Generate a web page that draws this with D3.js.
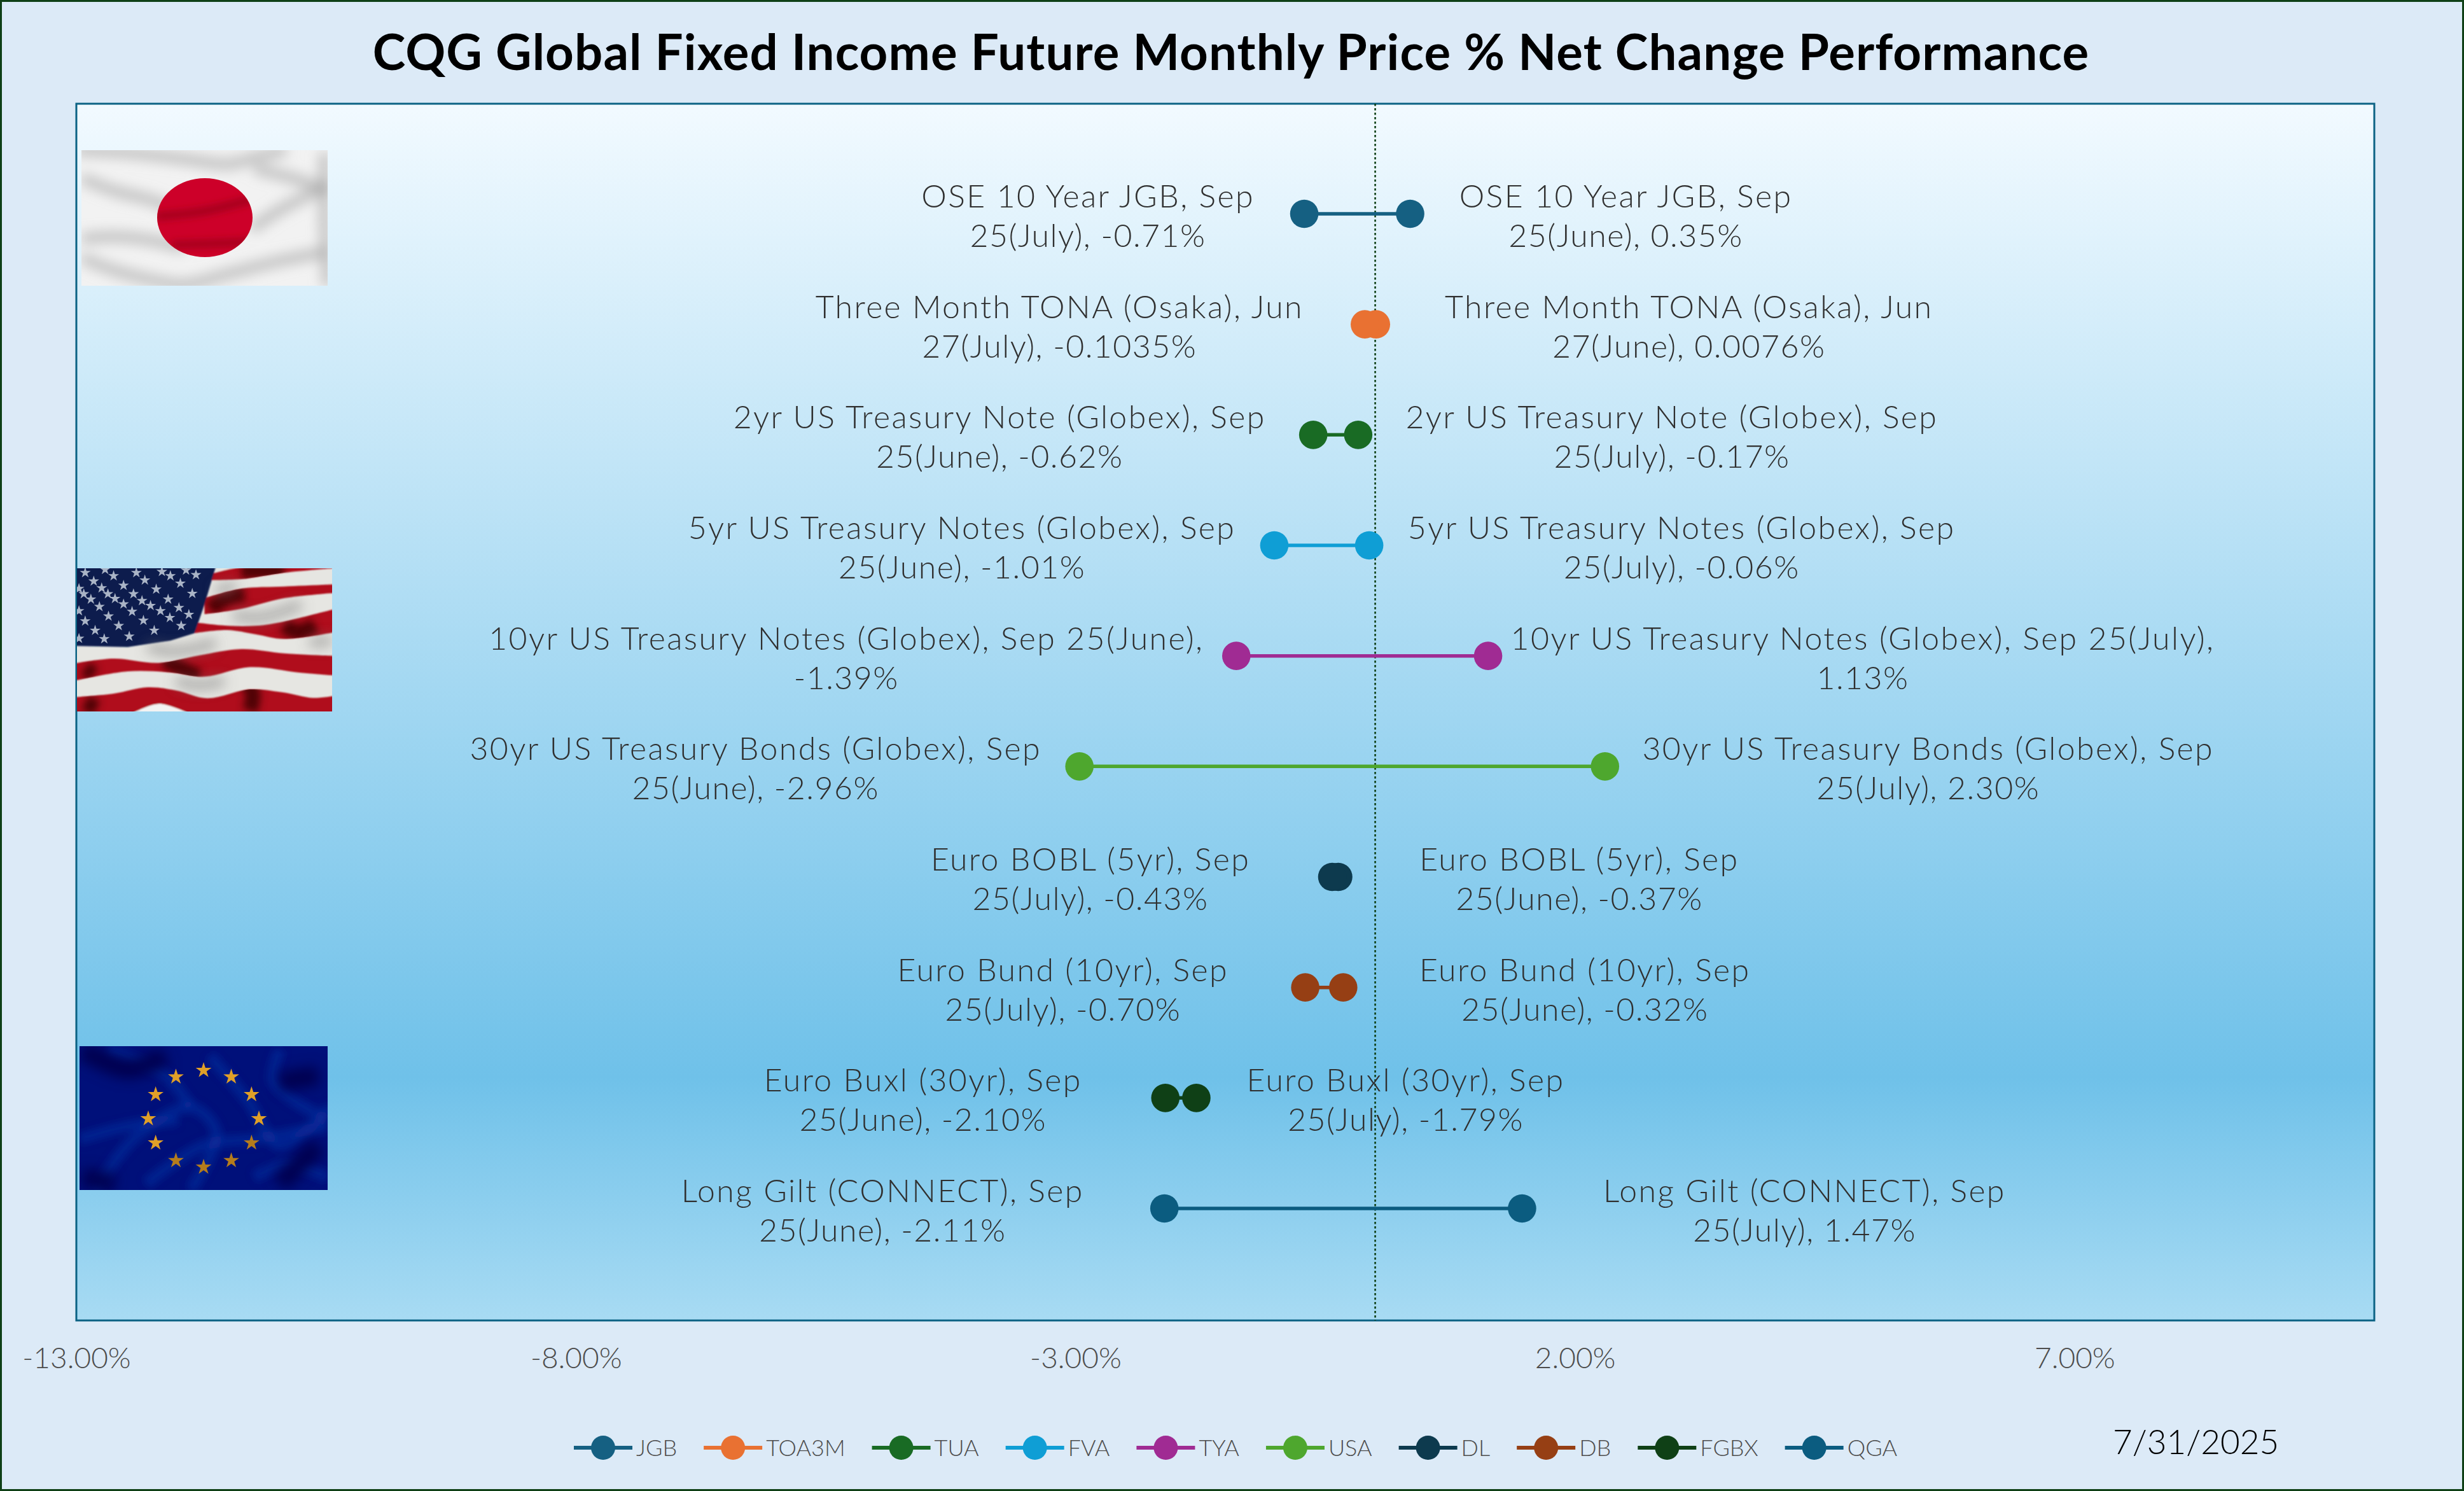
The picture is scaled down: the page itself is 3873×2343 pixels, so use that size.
<!DOCTYPE html>
<html>
<head>
<meta charset="UTF-8">
<title>CQG Global Fixed Income</title>
<script src="https://cdnjs.cloudflare.com/ajax/libs/d3/7.9.0/d3.min.js"></script>
<style>
body { margin: 0; background: #dceaf7; }
text { font-family: Lato, "Open Sans", sans-serif; }
.lbl { font-size: 50px; font-weight: 300; fill: #303030; letter-spacing: 2.4px; }
.lbl.second { letter-spacing: 1.5px; }
.tick text { font-size: 46px; font-weight: 300; fill: #4d4d4d; font-family: Lato, sans-serif; }
.leg { font-size: 36px; fill: #4d4d4d; font-weight: 300; }
</style>
</head>
<body>
<svg id="chart" width="3873" height="2343"></svg>
<script>
var tickers = ["JGB","TOA3M","TUA","FVA","TYA","USA","DL","DB","FGBX","QGA"];
var colors = ["#156082","#e97132","#196b24","#0f9ed5","#a02b93","#4ea72e","#0d3a4e","#963f14","#0f4016","#0b5c80"];
var juneValues = [0.35,0.0076,-0.62,-1.01,-1.39,-2.96,-0.37,-0.32,-2.10,-2.11];
var julyValues = [-0.71,-0.1035,-0.17,-0.06,1.13,2.30,-0.43,-0.70,-1.79,1.47];
var juneLabels = [
  ["OSE 10 Year JGB, Sep","25(June), 0.35%"],
  ["Three Month TONA (Osaka), Jun","27(June), 0.0076%"],
  ["2yr US Treasury Note (Globex), Sep","25(June), -0.62%"],
  ["5yr US Treasury Notes (Globex), Sep","25(June), -1.01%"],
  ["10yr US Treasury Notes (Globex), Sep 25(June),","-1.39%"],
  ["30yr US Treasury Bonds (Globex), Sep","25(June), -2.96%"],
  ["Euro BOBL (5yr), Sep","25(June), -0.37%"],
  ["Euro Bund (10yr), Sep","25(June), -0.32%"],
  ["Euro Buxl (30yr), Sep","25(June), -2.10%"],
  ["Long Gilt (CONNECT), Sep","25(June), -2.11%"]
];
var julyLabels = [
  ["OSE 10 Year JGB, Sep","25(July), -0.71%"],
  ["Three Month TONA (Osaka), Jun","27(July), -0.1035%"],
  ["2yr US Treasury Note (Globex), Sep","25(July), -0.17%"],
  ["5yr US Treasury Notes (Globex), Sep","25(July), -0.06%"],
  ["10yr US Treasury Notes (Globex), Sep 25(July),","1.13%"],
  ["30yr US Treasury Bonds (Globex), Sep","25(July), 2.30%"],
  ["Euro BOBL (5yr), Sep","25(July), -0.43%"],
  ["Euro Bund (10yr), Sep","25(July), -0.70%"],
  ["Euro Buxl (30yr), Sep","25(July), -1.79%"],
  ["Long Gilt (CONNECT), Sep","25(July), 1.47%"]
];
var xDomain = [-13,10];
var xTicks = [-13,-8,-3,2,7];
var titleText = "CQG Global Fixed Income Future Monthly Price % Net Change Performance";
var dateText = "7/31/2025";

// distance from a point to the centre of its label box, per row
var leftBoxOffset = [340,480,493,491,613,509,380,381,381,443];
var rightBoxOffset = [339,492,493,491,589,508,379,380,329,444];

var svg = d3.select("#chart");
var plot = {left:120, right:3732, top:163, bottom:2075};
var x = d3.scaleLinear().domain(xDomain).range([plot.left, plot.right]);
var y = d3.scalePoint().domain(tickers).range([336,1899]);

var defs = svg.append("defs");
var grad = defs.append("linearGradient").attr("id","plotbg").attr("x1",0).attr("y1",0).attr("x2",0).attr("y2",1);
[[0,"#f2faff"],[0.8,"#6fc1e9"],[1,"#a8dbf3"]].forEach(function(s){
  grad.append("stop").attr("offset",s[0]).attr("stop-color",s[1]);
});
[["b1",1.2],["b6",6],["b10",10]].forEach(function(f){
  defs.append("filter").attr("id",f[0]).attr("x","-20%").attr("y","-20%").attr("width","140%").attr("height","140%")
      .append("feGaussianBlur").attr("stdDeviation",f[1]);
});

// page + plot frame
svg.append("rect").attr("x",1.5).attr("y",1.5).attr("width",3870).attr("height",2340)
   .attr("fill","#dceaf7").attr("stroke","#0f4016").attr("stroke-width",3);
svg.append("rect").attr("x",plot.left).attr("y",plot.top)
   .attr("width",plot.right-plot.left).attr("height",plot.bottom-plot.top)
   .attr("fill","url(#plotbg)").attr("stroke","#0b6284").attr("stroke-width",3);

svg.append("text").attr("x",1935).attr("y",110).attr("text-anchor","middle")
   .style("font-size","78px").style("font-weight",700).style("letter-spacing","1.1px").style("fill","#000").text(titleText);

// flags (decoration, drawn by hand)
var curve = d3.line().curve(d3.curveCatmullRom);
function flagGroup(id,bx,by,bw,bh) {
  defs.append("clipPath").attr("id",id).append("rect").attr("x",bx).attr("y",by).attr("width",bw).attr("height",bh);
  return svg.append("g").attr("clip-path","url(#"+id+")");
}
function japanFlag() {
  var g = flagGroup("cjp",128,236,387,213);
  g.append("rect").attr("x",128).attr("y",236).attr("width",387).attr("height",213).attr("fill","#f2f2f2");
  var folds = [
    [[120,236],[200,240],[290,250],[360,258],[400,248],[450,236]],
    [[128,280],[180,300],[240,315],[290,335]],
    [[128,375],[180,372],[240,378],[290,390]],
    [[128,405],[180,425],[240,440],[290,447],[360,430],[440,410],[520,395]],
    [[400,265],[460,280],[520,300]],
    [[395,360],[440,330],[520,290]],
    [[510,240],[510,340],[515,450]]
  ];
  g.append("g").attr("filter","url(#b10)").selectAll("path").data(folds).join("path")
   .attr("d",curve).attr("fill","none").attr("stroke","#a8a8a8").attr("stroke-width",16).attr("opacity",0.7);
  defs.append("clipPath").attr("id","cjpsun").append("ellipse").attr("cx",322).attr("cy",342).attr("rx",75).attr("ry",62);
  g.append("ellipse").attr("cx",322).attr("cy",342).attr("rx",75).attr("ry",62).attr("fill","#cd0029");
  g.append("g").attr("clip-path","url(#cjpsun)").append("g").attr("filter","url(#b6)").selectAll("path")
   .data([[[245,340],[320,332],[400,312]],[[270,385],[330,383],[400,380]]]).join("path")
   .attr("d",curve).attr("fill","none").attr("stroke","#a3001c").attr("stroke-width",12);
}
function usFlag() {
  // traced in crop units, then mapped to the page
  var m = function(p){ return [p[0]/2.24, 850+p[1]/3]; };
  var g = flagGroup("cus",121,893,401,225);
  g.append("rect").attr("x",121).attr("y",893).attr("width",401).attr("height",225).attr("fill","#e6e6e2");
  var reds = [
    {up:[[745,155],[850,125],[1180,115]], lo:[[1180,128],[1000,150],[850,180],[730,185]]},
    {up:[[720,270],[850,225],[1000,215],[1180,205]], lo:[[1180,245],[1000,270],[850,320],[720,345]]},
    {up:[[690,385],[800,400],[900,400],[1000,380],[1180,320]], lo:[[1180,430],[1000,462],[900,440],[800,420],[685,435]]},
    {up:[[260,578],[400,555],[560,575],[700,540],[850,510],[1000,530],[1180,542]], lo:[[1180,635],[1050,620],[880,595],[720,640],[600,620],[450,615],[260,660]]},
    {up:[[260,737],[400,720],[520,690],[620,705],[730,742],[880,700],[1000,715],[1100,740],[1180,730]], lo:[[1180,820],[260,820]]}
  ];
  var gs = g.append("g").attr("filter","url(#b1)");
  gs.selectAll("path.r").data(reds).join("path").attr("class","r")
    .attr("d",function(d){ return curve(d.up.map(m))+"L"+curve(d.lo.map(m)).slice(1)+"Z"; }).attr("fill","#b0101a");
  gs.append("path").attr("d",curve([[470,810],[560,768],[660,810]].map(m))+"Z").attr("fill","#f3f3f3");
  // dark folds only over the red, soft grey only over the white
  defs.append("clipPath").attr("id","cusred").selectAll("path").data(reds).join("path")
    .attr("d",function(d){ return curve(d.up.map(m))+"L"+curve(d.lo.map(m)).slice(1)+"Z"; });
  var shades = [
    [[580,560],[650,610],[700,640]],[[860,650],[890,720],[880,800]],[[1000,400],[1050,430],[1110,400]],
    [[740,320],[800,270],[860,250]],[[300,600],[330,630]],[[300,760],[340,790]],[[850,140],[1000,140]]
  ];
  g.append("g").attr("clip-path","url(#cusred)").append("g").attr("filter","url(#b6)").selectAll("path").data(shades).join("path")
   .attr("d",function(d){ return curve(d.map(m)); }).attr("fill","none").attr("stroke","#3a0000").attr("stroke-width",24).attr("opacity",0.8);
  g.append("g").attr("filter","url(#b10)").selectAll("path")
   .data([[[520,500],[620,520],[760,480]],[[620,660],[700,680],[790,660]],[[820,350],[920,360],[1060,300]],[[1090,480],[1169,470]],[[760,240],[830,210]]]).join("path")
   .attr("d",function(d){ return curve(d.map(m)); }).attr("fill","none").attr("stroke","#777").attr("stroke-width",14).attr("opacity",0.6);
  var canton = [[262,120],[760,120],[720,300],[685,435],[600,470],[450,500],[262,495]].map(m);
  gs.append("path").attr("d","M"+canton.join("L")+"Z").attr("fill","#091c4e");
  var stars = [[300,150],[370,135],[480,150],[570,145],[655,138],[330,190],[400,165],[510,185],[600,165],[690,160],
    [435,210],[550,228],[635,200],[358,222],[295,250],[380,250],[470,250],[592,275],[677,248],[320,275],[405,272],[500,282],
    [350,310],[435,298],[530,305],[630,315],[465,333],[565,330],[665,347],[300,378],[382,355],[505,375],[598,362],[418,400],
    [638,400],[335,422],[543,422],[455,450],[367,462],[278,460],[278,330],[278,225]].map(m);
  var star = d3.symbol().type(d3.symbolStar).size(90);
  g.append("g").selectAll("path").data(stars).join("path")
   .attr("transform",function(d){ return "translate("+d+")"; }).attr("d",star).attr("fill","#aab4c6");
}
function euFlag() {
  var g = flagGroup("ceu",125,1644,390,226);
  g.append("rect").attr("x",125).attr("y",1644).attr("width",390).attr("height",226).attr("fill","#00107a");
  var swirls = [
    [[150,1870],[210,1790],[300,1740],[340,1780],[300,1870]],
    [[125,1790],[200,1770],[280,1760]],
    [[330,1660],[390,1730],[440,1800],[520,1740]],
    [[170,1650],[260,1690],[300,1740]],
    [[400,1850],[450,1830],[515,1850]],
    [[440,1650],[430,1700],[515,1760]],
    [[230,1860],[320,1800],[400,1790],[515,1770]]
  ];
  g.append("g").attr("filter","url(#b6)").selectAll("path").data(swirls).join("path")
   .attr("d",curve).attr("fill","none").attr("stroke","#0a2fa0").attr("stroke-width",18).attr("opacity",0.55);
  g.append("g").attr("filter","url(#b10)").selectAll("path")
   .data([[[130,1650],[200,1680],[260,1660]],[[440,1700],[500,1690]],[[130,1850],[180,1860]],[[440,1860],[500,1800]]]).join("path")
   .attr("d",curve).attr("fill","none").attr("stroke","#000050").attr("stroke-width",30);
  var star = d3.symbol().type(d3.symbolStar).size(190);
  g.append("g").selectAll("path").data(d3.range(12)).join("path")
   .attr("transform",function(i){
     var a = i*Math.PI/6;
     return "translate("+(320+87*Math.sin(a))+","+(1758-76*Math.cos(a))+")";
   }).attr("d",star).attr("fill",function(i){ return (i>=4 && i<=7) ? "#b57c1c" : "#e0a028"; });
}
japanFlag(); usFlag(); euFlag();

// zero line
svg.append("line").attr("x1",x(0)).attr("x2",x(0)).attr("y1",plot.top).attr("y2",plot.bottom)
   .attr("stroke","#0f4016").attr("stroke-width",2.6).attr("stroke-dasharray","3.5,3.5");

// x axis
var axis = svg.append("g").attr("transform","translate(0,"+plot.bottom+")")
   .call(d3.axisBottom(x).tickValues(xTicks).tickSize(0).tickFormat(function(d){ return d.toFixed(2)+"%"; }));
axis.select(".domain").remove();
axis.selectAll("text").attr("y",75).attr("dy",0);

// dumbbells
var rows = svg.append("g").selectAll("g").data(tickers).join("g");
rows.append("line")
   .attr("x1",function(d,i){ return x(juneValues[i]); }).attr("x2",function(d,i){ return x(julyValues[i]); })
   .attr("y1",function(d){ return y(d); }).attr("y2",function(d){ return y(d); })
   .attr("stroke",function(d,i){ return colors[i]; }).attr("stroke-width",5.5);
[juneValues,julyValues].forEach(function(vals){
  rows.append("circle").attr("cx",function(d,i){ return x(vals[i]); }).attr("cy",function(d){ return y(d); })
     .attr("r",22.3).attr("fill",function(d,i){ return colors[i]; });
});

// point labels: two centred lines beside the point, on the outer side
function addLabel(t,i,vals,other,lines) {
  var onLeft = vals[i] < other[i];
  var cx = onLeft ? x(vals[i])-leftBoxOffset[i] : x(vals[i])+rightBoxOffset[i];
  lines[i].forEach(function(s,k){
    svg.append("text").attr("class",k ? "lbl second" : "lbl").attr("text-anchor","middle")
       .attr("x",cx).attr("y",y(t)-10+k*62).text(s);
  });
}
tickers.forEach(function(t,i){
  addLabel(t,i,juneValues,julyValues,juneLabels);
  addLabel(t,i,julyValues,juneValues,julyLabels);
});

// legend, laid out one item after another
var legX = 902;
tickers.forEach(function(t,i){
  var g = svg.append("g").attr("transform","translate("+legX+",2275)");
  g.append("line").attr("x1",0).attr("x2",92).attr("stroke",colors[i]).attr("stroke-width",6);
  g.append("circle").attr("cx",46).attr("r",19).attr("fill",colors[i]);
  var tx = g.append("text").attr("class","leg").attr("x",98).attr("y",13).text(t);
  legX += 98 + tx.node().getComputedTextLength() + 42;
});

svg.append("text").attr("x",3321).attr("y",2285).style("font-size","53px").style("font-weight",300).style("fill","#000").text(dateText);
</script>
</body>
</html>
